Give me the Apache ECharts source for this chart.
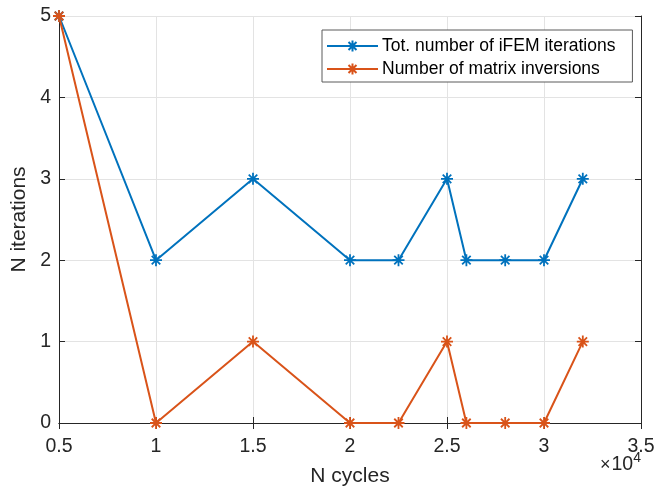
<!DOCTYPE html>
<html>
<head>
<meta charset="utf-8">
<script src="https://cdn.jsdelivr.net/npm/echarts@6/dist/echarts.min.js"></script>
<style>
  html, body { margin: 0; padding: 0; background: #fff; overflow: hidden; width: 655px; height: 486px; }
  #chart { width: 655px; height: 486px; overflow: hidden; }
</style>
</head>
<body>
<div id="chart"></div>
<script>
// Number of load cycles at which the inverse FEM solution was computed
const cycles = [5000, 10000, 15000, 20000, 22500, 25000, 26000, 28000, 30000, 32000];
// Total number of iFEM iterations per evaluation
const totIterations = [5, 2, 3, 2, 2, 3, 2, 2, 2, 3];
// Number of matrix inversions per evaluation
const matrixInversions = [5, 0, 1, 0, 0, 1, 0, 0, 0, 1];

const seriesNames = ['Tot. number of iFEM iterations', 'Number of matrix inversions'];
const xTicks = { min: 5000, max: 35000, step: 5000, scale: 10000 };
const yTicks = { min: 0, max: 5, step: 1 };

const BLUE = '#0072BD';
const ORANGE = '#D95319';
const INK = '#262626';
const FONT = 'Liberation Sans, Arial, Helvetica, sans-serif';
const TICK_FS = 19.5;
const TITLE_FS = 21;
const LEGEND_FS = 17.5;

// asterisk marker: vertical, horizontal and two diagonal strokes
const ASTERISK = 'path://M10 0L10 20M0 10L20 10M2.9 2.9L17.1 17.1M17.1 2.9L2.9 17.1';

function pairs(xs, ys) {
  return xs.map((x, i) => [x, ys[i]]);
}

function lineSeries(name, values, color) {
  return {
    name: name,
    type: 'line',
    data: pairs(cycles, values),
    symbol: ASTERISK,
    symbolSize: 12,
    showAllSymbol: true,
    lineStyle: { color: color, width: 2 },
    itemStyle: { color: color, borderColor: color, borderWidth: 1.8 },
    emphasis: { disabled: true },
    animation: false,
    z: 5
  };
}

const chart = echarts.init(document.getElementById('chart'), null, { renderer: 'canvas', width: 655, height: 486 });

const tickStyle = { show: true, inside: true, length: 6, lineStyle: { color: INK, width: 1 } };

chart.setOption({
  backgroundColor: '#fff',
  animation: false,
  grid: {
    left: 59, right: 14, top: 16, bottom: 63,
    containLabel: false,
    outerBoundsMode: 'none'
  },
  legend: {
    data: seriesNames,
    orient: 'vertical',
    left: 322,
    top: 30,
    itemWidth: 51,
    itemHeight: 14,
    itemGap: 5,
    padding: [7, 17, 4, 4],
    backgroundColor: '#fff',
    borderColor: '#5a5a5a',
    borderWidth: 1,
    textStyle: {
      color: '#000', fontFamily: FONT, fontSize: LEGEND_FS, lineHeight: 18,
      padding: [0, 0, 0, -1]
    }
  },
  xAxis: [
    {
      type: 'value',
      min: xTicks.min,
      max: xTicks.max,
      interval: xTicks.step,
      position: 'bottom',
      name: 'N cycles',
      nameLocation: 'middle',
      nameGap: 43,
      nameTextStyle: { color: INK, fontFamily: FONT, fontSize: TITLE_FS },
      axisLine: { show: true, onZero: false, lineStyle: { color: INK, width: 1 } },
      axisTick: tickStyle,
      axisLabel: {
        color: INK, fontFamily: FONT, fontSize: TICK_FS, margin: 14,
        formatter: v => String(v / xTicks.scale)
      },
      splitLine: { show: true, lineStyle: { color: '#e3e3e3', width: 1 } }
    },
    {
      type: 'value',
      min: xTicks.min,
      max: xTicks.max,
      interval: xTicks.step,
      position: 'top',
      axisLine: { show: true, lineStyle: { color: INK, width: 1 } },
      axisTick: tickStyle,
      axisLabel: { show: false },
      splitLine: { show: false }
    }
  ],
  yAxis: [
    {
      type: 'value',
      min: yTicks.min,
      max: yTicks.max,
      interval: yTicks.step,
      position: 'left',
      name: 'N iterations',
      nameLocation: 'middle',
      nameGap: 27,
      nameTextStyle: { color: INK, fontFamily: FONT, fontSize: TITLE_FS },
      axisLine: { show: true, onZero: false, lineStyle: { color: INK, width: 1 } },
      axisTick: tickStyle,
      axisLabel: { color: INK, fontFamily: FONT, fontSize: TICK_FS, margin: 8 },
      splitLine: { show: true, lineStyle: { color: '#e3e3e3', width: 1 } }
    },
    {
      type: 'value',
      min: yTicks.min,
      max: yTicks.max,
      interval: yTicks.step,
      position: 'right',
      axisLine: { show: true, lineStyle: { color: INK, width: 1 } },
      axisTick: tickStyle,
      axisLabel: { show: false },
      splitLine: { show: false }
    }
  ],
  graphic: [
    {
      type: 'text',
      right: 14,
      top: 451,
      style: {
        text: '{x|×}{m|10}{s|4}',
        rich: {
          x: { fontFamily: FONT, fontSize: 18, fill: INK, verticalAlign: 'bottom', lineHeight: 24, padding: [0, 1, 1, 0] },
          m: { fontFamily: FONT, fontSize: TICK_FS, fill: INK, verticalAlign: 'bottom', lineHeight: 24 },
          s: { fontFamily: FONT, fontSize: 14, fill: INK, verticalAlign: 'top', lineHeight: 14, padding: [0, 0, 10, 0] }
        }
      }
    }
  ],
  series: [
    lineSeries(seriesNames[0], totIterations, BLUE),
    lineSeries(seriesNames[1], matrixInversions, ORANGE)
  ]
});
</script>
</body>
</html>
